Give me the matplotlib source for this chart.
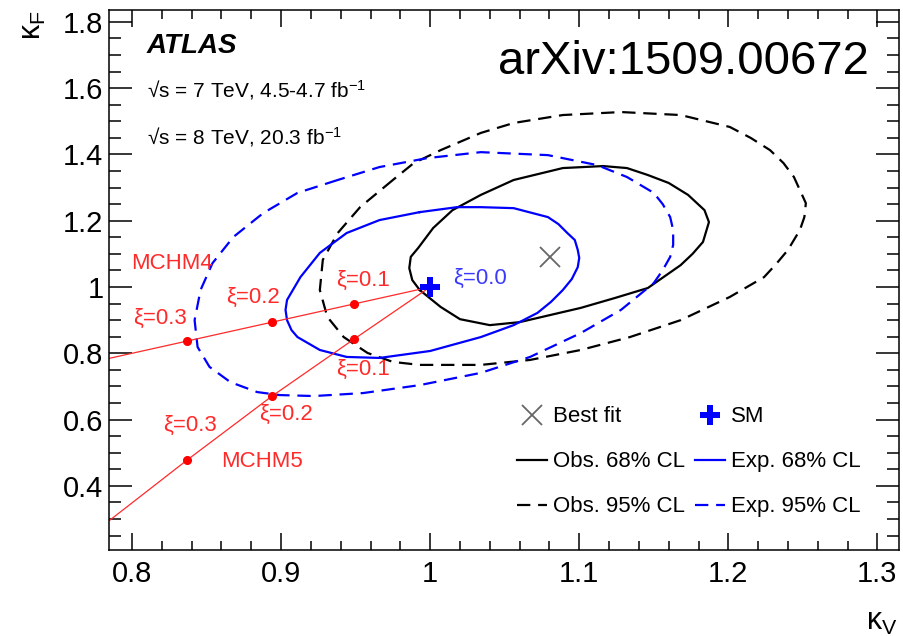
import numpy as np
import matplotlib
matplotlib.use("Agg")
import matplotlib.pyplot as plt
from matplotlib.lines import Line2D
from matplotlib.ticker import MultipleLocator, FuncFormatter

plt.rcParams["font.family"] = ["Liberation Sans", "DejaVu Sans"]
plt.rcParams["mathtext.fontset"] = "custom"
plt.rcParams["mathtext.rm"] = "Liberation Sans"
plt.rcParams["mathtext.it"] = "Liberation Sans:italic"
plt.rcParams["mathtext.bf"] = "Liberation Sans:bold"

# contours (kappa_V, kappa_F)
obs68_kv = [0.993, 0.988, 0.986, 0.987, 0.992, 1.002, 1.015, 1.034, 1.056, 1.089, 1.116,
            1.132, 1.146, 1.160, 1.173, 1.184, 1.187, 1.183, 1.176, 1.168, 1.146, 1.124,
            1.101, 1.060, 1.040, 1.020, 1.007]
obs68_kf = [0.991, 1.021, 1.057, 1.091, 1.118, 1.178, 1.232, 1.278, 1.323, 1.359, 1.365,
            1.359, 1.338, 1.314, 1.278, 1.232, 1.196, 1.136, 1.100, 1.066, 0.997, 0.967,
            0.937, 0.894, 0.885, 0.903, 0.940]

obs95_kv = [0.975, 0.953, 0.938, 0.928, 0.926, 0.931, 0.942, 0.958, 0.975, 0.993, 1.011,
            1.034, 1.067, 1.101, 1.134, 1.168, 1.201, 1.224, 1.232, 1.240, 1.248, 1.251,
            1.252, 1.244, 1.237, 1.228, 1.215, 1.201, 1.168, 1.128, 1.089, 1.056, 1.034,
            1.007, 0.989]
obs95_kf = [1.323, 1.241, 1.163, 1.082, 0.991, 0.910, 0.849, 0.801, 0.774, 0.765, 0.765,
            0.765, 0.780, 0.810, 0.849, 0.900, 0.970, 1.030, 1.069, 1.112, 1.172, 1.211,
            1.253, 1.332, 1.374, 1.413, 1.450, 1.483, 1.519, 1.528, 1.519, 1.495, 1.465,
            1.413, 1.374]

exp68_kv = [0.993, 0.966, 0.944, 0.926, 0.913, 0.904, 0.903, 0.904, 0.907, 0.911, 0.926,
            0.944, 0.966, 1.000, 1.034, 1.056, 1.072, 1.081, 1.089, 1.095, 1.099, 1.100,
            1.099, 1.097, 1.092, 1.086, 1.079, 1.056, 1.034, 1.018]
exp68_kf = [1.226, 1.202, 1.163, 1.103, 1.030, 0.961, 0.931, 0.900, 0.870, 0.849, 0.810,
            0.789, 0.786, 0.807, 0.849, 0.885, 0.922, 0.955, 0.991, 1.024, 1.060, 1.088,
            1.112, 1.142, 1.163, 1.190, 1.211, 1.238, 1.241, 1.241]

exp95_kv = [0.938, 0.911, 0.888, 0.868, 0.854, 0.846, 0.842, 0.844, 0.852, 0.866, 0.884,
            0.899, 0.922, 0.955, 0.993, 1.034, 1.067, 1.101, 1.128, 1.150, 1.156, 1.161,
            1.163, 1.163, 1.161, 1.156, 1.150, 1.132, 1.112, 1.079, 1.034, 0.998, 0.966]
exp95_kf = [1.323, 1.284, 1.223, 1.151, 1.072, 0.991, 0.900, 0.819, 0.759, 0.713, 0.683,
            0.674, 0.671, 0.680, 0.704, 0.741, 0.789, 0.861, 0.931, 1.012, 1.051, 1.091,
            1.127, 1.172, 1.211, 1.250, 1.284, 1.332, 1.368, 1.398, 1.407, 1.389, 1.362]

best_fit = (1.0805, 1.0905)
sm_point = (1.0, 1.0)

# composite Higgs model benchmarks
xi_labels = ["ξ=0.1", "ξ=0.2", "ξ=0.3"]
mchm4_kv = [1.0, 0.949, 0.894, 0.837, 0.785]
mchm4_kf = [1.0, 0.949, 0.894, 0.837, 0.785]
mchm5_kv = [1.0, 0.949, 0.894, 0.837, 0.785]
mchm5_kf = [1.0, 0.843, 0.671, 0.478, 0.296]


def closed(a):
    return np.append(a, a[0])


fig = plt.figure(figsize=(9.04, 6.36), dpi=100)
ax = fig.add_axes([0.1206, 0.1352, 0.8744, 0.8491])

dash = (6, 3.5)
kw = dict(lw=1.6, solid_joinstyle="round", dash_joinstyle="round")
ax.plot(closed(obs68_kv), closed(obs68_kf), color="black", **kw)
ax.plot(closed(obs95_kv), closed(obs95_kf), color="black", dashes=dash, **kw)
ax.plot(closed(exp68_kv), closed(exp68_kf), color="blue", **kw)
ax.plot(closed(exp95_kv), closed(exp95_kf), color="blue", dashes=dash, **kw)

red = "#ff2a2a"
ax.plot(mchm4_kv, mchm4_kf, color=red, lw=0.9)
ax.plot(mchm5_kv, mchm5_kf, color=red, lw=0.9)
ax.plot(mchm4_kv[1:4], mchm4_kf[1:4], "o", color="red", ms=5.5)
ax.plot(mchm5_kv[1:4], mchm5_kf[1:4], "o", color="red", ms=5.5)

ax.plot(*best_fit, marker="x", color="#666666", ms=15, mew=1.3, ls="none")
ax.plot(*sm_point, marker="P", color="blue", ms=15, mew=0, ls="none", zorder=5)

fs_lab = 16
pos4 = [(0.955, 1.021), (0.881, 0.970), (0.819, 0.906)]
pos5 = [(0.955, 0.750), (0.903, 0.617), (0.839, 0.581)]
for lab, p in zip(xi_labels, pos4):
    ax.text(p[0], p[1], lab, color=red, fontsize=fs_lab, ha="center", va="center")
for lab, p in zip(xi_labels, pos5):
    ax.text(p[0], p[1], lab, color=red, fontsize=fs_lab, ha="center", va="center")
ax.text(0.8268, 1.072, "MCHM4", color=red, fontsize=fs_lab, ha="center", va="center")
ax.text(0.8872, 0.475, "MCHM5", color=red, fontsize=fs_lab, ha="center", va="center")
ax.text(1.0336, 1.027, "ξ=0.0", color="#3a3aff", fontsize=fs_lab, ha="center", va="center")

ax.set_xlim(0.7846, 1.3148)
ax.set_ylim(0.2064, 1.836)
ax.xaxis.set_major_locator(MultipleLocator(0.1))
ax.xaxis.set_minor_locator(MultipleLocator(0.02))
ax.yaxis.set_major_locator(MultipleLocator(0.2))
ax.yaxis.set_minor_locator(MultipleLocator(0.05))
fmt = FuncFormatter(lambda v, p: f"{round(v, 3):g}")
ax.xaxis.set_major_formatter(fmt)
ax.yaxis.set_major_formatter(fmt)
ax.tick_params(which="both", direction="in", top=True, right=True, width=1.1,
               labelsize=21, colors="black")
ax.tick_params(axis="x", which="major", length=12.2, pad=7)
ax.tick_params(axis="x", which="minor", length=6.5)
ax.tick_params(axis="y", which="major", length=16.5, pad=4)
ax.tick_params(axis="y", which="minor", length=8.6)
for s in ax.spines.values():
    s.set_linewidth(1.1)

fig.text(0.0365, 0.961, "κ$_{\\mathrm{F}}$", fontsize=22, rotation=90,
         ha="center", va="center")
fig.text(0.9757, 0.022, "κ$_{\\mathrm{V}}$", fontsize=22, ha="center", va="center")

ax.text(0.048, 0.933, "ATLAS", transform=ax.transAxes, fontsize=20,
        fontweight="bold", fontstyle="italic", va="center")
ax.text(0.048, 0.852, "√s = 7 TeV, 4.5-4.7 fb$^{\\mathrm{-1}}$", transform=ax.transAxes,
        fontsize=15, va="center")
ax.text(0.048, 0.765, "√s = 8 TeV, 20.3 fb$^{\\mathrm{-1}}$", transform=ax.transAxes,
        fontsize=15, va="center")
ax.text(0.961, 0.904, "arXiv:1509.00672", transform=ax.transAxes, fontsize=34,
        ha="right", va="center")

handles = [
    Line2D([], [], marker="x", color="#666666", ms=15, mew=1.3, ls="none"),
    Line2D([], [], color="black", lw=1.6),
    Line2D([], [], color="black", lw=1.6, dashes=dash),
    Line2D([], [], marker="P", color="blue", ms=15, mew=0, ls="none"),
    Line2D([], [], color="blue", lw=1.6),
    Line2D([], [], color="blue", lw=1.6, dashes=dash),
]
labels = ["Best fit", "Obs. 68% CL", "Obs. 95% CL", "SM", "Exp. 68% CL", "Exp. 95% CL"]
ax.legend(handles, labels, ncol=2, loc="upper left", bbox_to_anchor=(0.516, 0.266),
          frameon=False, fontsize=16, borderpad=0, labelspacing=1.08,
          handlelength=1.36, handletextpad=0.27, columnspacing=0.45,
          borderaxespad=0)

fig.savefig("out.png", dpi=100)
